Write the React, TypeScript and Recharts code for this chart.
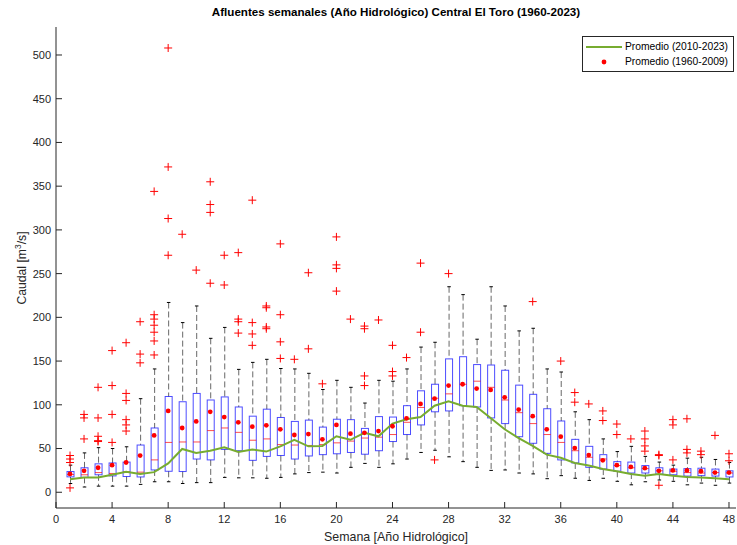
import { ComposedChart, Bar, Line, Scatter, XAxis, YAxis, Legend } from 'recharts';

const weeks = [1, 2, 3, 4, 5, 6, 7, 8, 9, 10, 11, 12, 13, 14, 15, 16, 17, 18, 19, 20, 21, 22, 23, 24,
  25, 26, 27, 28, 29, 30, 31, 32, 33, 34, 35, 36, 37, 38, 39, 40, 41, 42, 43, 44, 45, 46, 47, 48];

// boxplot stats 1960-2009
const whiskerLow = [10, 6, 7, 7, 7, 9, 12, 12, 10, 11, 11, 17, 16.5, 16.5, 16, 17, 21, 22.5, 23, 22, 28.5, 33, 28.5, 32.5,
  38, 45.5, 48, 40.5, 35, 28.5, 25, 25.5, 22, 21, 15.5, 19, 16, 13.5, 16, 12.5, 8.5, 12, 14, 12.5, 8.5, 10.5, 8, 10.5];
const q1 = [17.6, 17, 20, 18.7, 18, 17.5, 25.5, 24, 23.7, 38, 37, 49, 47.5, 36.5, 41, 42, 38, 41.5, 43, 44, 45.5, 43.5, 47.5, 58,
  66, 77, 92, 93, 99, 97.5, 85, 78.5, 63.5, 56, 44.5, 37, 33.5, 28.5, 26.5, 24, 22, 22, 20.5, 20, 18.5, 19, 18.5, 17.5];
const median = [20.2, 20, 22.5, 21.5, 23.5, 23, 37, 57, 57.5, 57.5, 70.5, 73.5, 68.5, 59.5, 61, 54.5, 54, 53.5, 54.5, 56.5, 58.5, 62, 63, 66,
  80, 97, 107.5, 112.5, 123.5, 127, 120, 105.5, 91, 78.5, 66, 57, 47.5, 40, 38, 30.5, 28, 27, 24.5, 24, 22.5, 22, 22.5, 22];
const q3 = [23.7, 28, 32.5, 33.5, 34.5, 54, 73.5, 109.5, 103.5, 113, 105.5, 109, 97.5, 87, 95, 85.5, 81, 82.5, 74.5, 83.5, 83, 73, 86.5, 86,
  99, 116, 123.5, 152.5, 155, 146, 145.5, 139.5, 122.5, 112, 95.5, 81.5, 60.5, 52.5, 43, 35, 34.5, 30.5, 28, 26.5, 27, 27.5, 26.5, 24.5];
const whiskerHigh = [31, 45, 51, 50, 52, 107, 141, 217, 194, 213, 176, 188.5, 140.5, 148.5, 152, 141.5, 141, 136, 117.5, 128, 120, 102, 128, 127,
  141, 166, 171.5, 235, 226, 175, 235, 213, 184.5, 187.5, 141, 137.5, 92, 83, 61, 46.5, 52.5, 41, 34.5, 31, 39, 40, 37.5, 34];
const mean1960 = [21, 24.5, 28, 31, 34, 42, 65, 93, 73.5, 81, 92, 86, 80, 75, 76.5, 72, 65.5, 66.5, 60.5, 77, 67, 68, 70, 75.5,
  84.5, 101, 107, 122, 123.5, 118.5, 117, 108.5, 94.5, 87, 72, 63.5, 50.5, 42.5, 36.5, 31, 29, 27.5, 24.5, 25, 25, 24, 22.5, 22.5];
const outliers = [
  [42, 38, 34, 5], [89, 85, 61], [120, 85, 64, 59, 58], [162, 122, 89, 57], [171, 113, 105, 83, 77, 70], [195, 158, 148],
  [344, 203, 198, 191, 183, 173, 157], [508, 372, 313, 271], [295], [254], [355, 329, 320, 239], [271, 237],
  [274, 198, 195, 182], [334, 194, 181, 168], [213, 211, 189, 187], [284, 203, 172, 153], [152], [251, 164],
  [124], [292, 260, 256, 230], [198], [190, 187, 133, 122], [197], [168, 138, 133],
  [154], [262, 183], [37], [250], [], [], [], [], [], [218], [], [150],
  [114, 103], [101], [93, 82], [78, 66], [61], [70, 61, 53, 47], [43, 42, 8], [83, 77, 37], [84, 49, 45], [47, 43], [65], [44, 36],
];
// promedio 2010-2023
const mean2010 = [15, 17, 17, 20, 23.5, 21, 23, 33, 49.5, 45, 47.5, 51.5, 46, 49, 46.5, 52.5, 60, 52.5, 53, 64, 60, 68, 64, 78.5,
  83.5, 86, 99, 104, 99, 97.5, 85, 72, 62, 53, 43, 39.5, 33.5, 30.5, 26.5, 24, 21, 19, 21, 19, 17.5, 17, 16, 15];

const xTicks = [0, 4, 8, 12, 16, 20, 24, 28, 32, 36, 40, 44, 48];
const yTicks = [0, 50, 100, 150, 200, 250, 300, 350, 400, 450, 500];

const data = weeks.map((w, i) => ({
  week: w,
  range: [whiskerLow[i], whiskerHigh[i]],
  q1: q1[i],
  median: median[i],
  q3: q3[i],
  recent: mean2010[i],
}));
const meanPoints = weeks.map((w, i) => ({ week: w, mean: mean1960[i] }));
const outlierPoints = weeks.flatMap((w, i) => outliers[i].map((v) => ({ week: w, value: v })));

const axisColor = '#262626';
const font = '"Liberation Sans", Arial, Helvetica, sans-serif';

function BoxShape(props: any) {
  const { x, y, width, height, payload } = props;
  if (x == null || y == null) return null;
  const [lo, hi] = payload.range;
  const top = Math.min(y, y + height);
  const h = Math.abs(height);
  // map a value inside [lo, hi] onto the bar the library already scaled
  const py = (v: number) => top + ((hi - v) / (hi - lo)) * h;
  const cx = x + width / 2;
  const yq1 = py(payload.q1);
  const yq3 = py(payload.q3);
  const ym = py(payload.median);
  const cap = width / 4;
  return (
    <g>
      <line x1={cx} x2={cx} y1={top} y2={yq3} stroke="#000" strokeWidth={0.8} strokeDasharray="6 3" strokeOpacity={0.75} />
      <line x1={cx} x2={cx} y1={yq1} y2={top + h} stroke="#000" strokeWidth={0.8} strokeDasharray="6 3" strokeOpacity={0.75} />
      <line x1={cx - cap} x2={cx + cap} y1={top} y2={top} stroke="#000" strokeWidth={1} />
      <line x1={cx - cap} x2={cx + cap} y1={top + h} y2={top + h} stroke="#000" strokeWidth={1} />
      <rect x={x} y={yq3} width={width} height={yq1 - yq3} fill="none" stroke="#0000ff" strokeWidth={1} strokeOpacity={0.7} />
      <line x1={x} x2={x + width} y1={ym} y2={ym} stroke="#ff0000" strokeWidth={1} strokeOpacity={0.7} />
    </g>
  );
}

function PlusShape(props: any) {
  const { cx, cy } = props;
  return (
    <g stroke="#ff0000" strokeWidth={1}>
      <line x1={cx - 4} x2={cx + 4} y1={cy} y2={cy} />
      <line x1={cx} x2={cx} y1={cy - 4} y2={cy + 4} />
    </g>
  );
}

function DotShape(props: any) {
  const { cx, cy } = props;
  return <circle cx={cx} cy={cy} r={2.4} fill="#ff0000" />;
}

function LegendBox() {
  return (
    <div style={{ border: '1px solid #262626', background: '#fff', fontFamily: font, fontSize: 10.3, color: '#000', padding: '2px 4px 2px 3px', lineHeight: '15px' }}>
      <div style={{ display: 'flex', alignItems: 'center' }}>
        <svg width={36} height={6}><line x1={0} x2={36} y1={3} y2={3} stroke="#77AC30" strokeWidth={2} /></svg>
        <span style={{ marginLeft: 3 }}>Promedio (2010-2023)</span>
      </div>
      <div style={{ display: 'flex', alignItems: 'center' }}>
        <svg width={36} height={6}><circle cx={18} cy={3} r={2.4} fill="#ff0000" /></svg>
        <span style={{ marginLeft: 3 }}>Promedio (1960-2009)</span>
      </div>
    </div>
  );
}

export default function App() {
  return (
    <div style={{ position: 'absolute', left: 0, top: 0, width: 737, height: 545, background: '#fff', fontFamily: font }}>
      <div style={{ position: 'absolute', left: 56, width: 680, top: 5, textAlign: 'center', fontWeight: 'bold', fontSize: 11.6, color: '#000' }}>
        Afluentes semanales (Año Hidrológico) Central El Toro (1960-2023)
      </div>
      <div style={{ position: 'absolute', left: 21, top: 268, transform: 'translate(-50%, -50%) rotate(-90deg)', whiteSpace: 'nowrap', fontSize: 12.2, color: axisColor }}>
        Caudal [m<sup style={{ fontSize: 8.5 }}>3</sup>/s]
      </div>
      <div style={{ position: 'absolute', left: 56, width: 680, top: 530, textAlign: 'center', fontSize: 12.4, color: axisColor }}>
        Semana [Año Hidrológico]
      </div>
      <ComposedChart width={737} height={545} data={data} margin={{ top: 27, right: 1, bottom: 0, left: 0 }}>
        <XAxis
          dataKey="week"
          type="number"
          domain={[0, 48.5]}
          ticks={xTicks}
          allowDataOverflow
          height={37}
          stroke={axisColor}
          tickSize={-6}
          tickMargin={13}
          tick={{ fill: axisColor, fontSize: 11, fontFamily: font }}
        />
        <XAxis
          xAxisId="top"
          orientation="top"
          dataKey="week"
          type="number"
          domain={[0, 48.5]}
          ticks={xTicks}
          allowDataOverflow
          height={0}
          stroke={axisColor}
          tickSize={-6}
          tick={false}
        />
        <YAxis
          type="number"
          domain={[-18, 532]}
          ticks={yTicks}
          allowDataOverflow
          width={56}
          stroke={axisColor}
          tickSize={-6}
          tickMargin={11}
          tick={{ fill: axisColor, fontSize: 11, fontFamily: font }}
        />
        <YAxis
          yAxisId="right"
          orientation="right"
          type="number"
          domain={[-18, 532]}
          ticks={yTicks}
          allowDataOverflow
          width={0}
          stroke={axisColor}
          tickSize={-6}
          tick={false}
        />
        <Bar dataKey="range" barSize={7} shape={(p: any) => <BoxShape {...p} />} isAnimationActive={false} />
        <Scatter data={outlierPoints} dataKey="value" shape={(p: any) => <PlusShape {...p} />} isAnimationActive={false} />
        <Scatter data={meanPoints} dataKey="mean" shape={(p: any) => <DotShape {...p} />} isAnimationActive={false} />
        <Line dataKey="recent" type="linear" stroke="#77AC30" strokeWidth={2} dot={false} isAnimationActive={false} />
        <Legend
          layout="vertical"
          align="center"
          verticalAlign="middle"
          content={() => <LegendBox />}
          wrapperStyle={{ position: 'absolute', left: 582, top: 36, width: 152 }}
        />
      </ComposedChart>
    </div>
  );
}
